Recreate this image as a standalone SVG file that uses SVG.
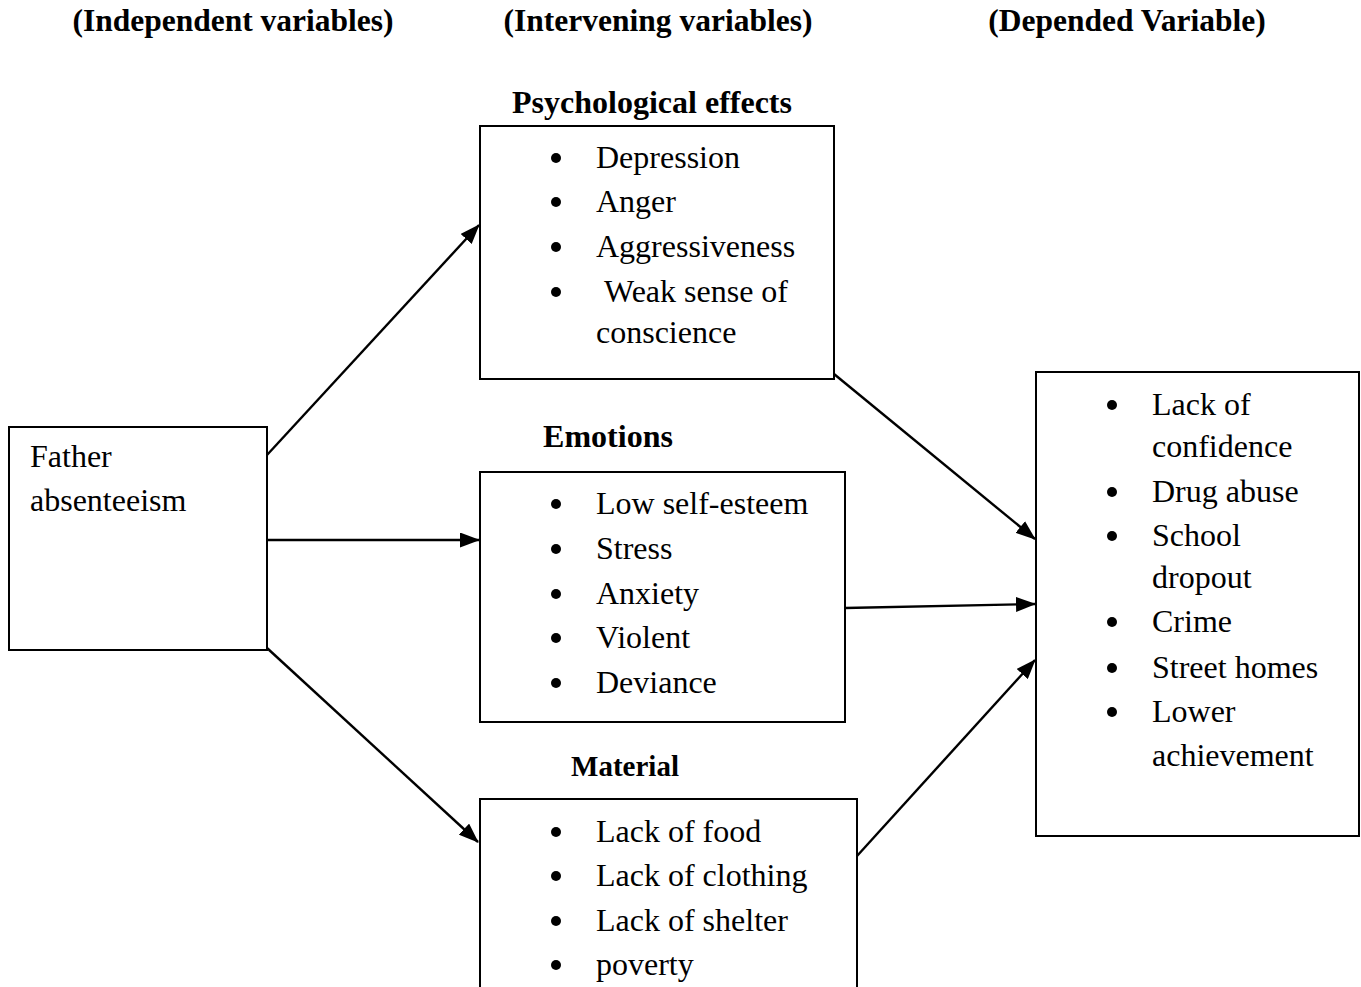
<svg xmlns="http://www.w3.org/2000/svg" width="1361" height="987" viewBox="0 0 1361 987">
<style>
.box{fill:#fff;stroke:#000;stroke-width:2}
.t{font-family:"Liberation Serif","Times New Roman",serif;font-size:32px;fill:#000}
.h{font-family:"Liberation Serif","Times New Roman",serif;font-size:31.5px;font-weight:bold;fill:#000;text-anchor:middle}
.c{stroke:#000;stroke-width:2.4;fill:none;marker-end:url(#ah)}
.b{fill:#000}
</style>
<defs>
<marker id="ah" viewBox="0 0 20 15" refX="19" refY="7.5" markerWidth="20" markerHeight="15" markerUnits="userSpaceOnUse" orient="auto">
<path d="M0,0 L20,7.5 L0,15 z" fill="#000"/>
</marker>
</defs>
<rect width="1361" height="987" fill="#fff"/>
<g id="headers">
<text class="h" x="233" y="31">(Independent variables)</text>
<text class="h" x="658" y="31">(Intervening variables)</text>
<text class="h" x="1127" y="31">(Depended Variable)</text>
</g>
<g id="connectors">
<line class="c" x1="267" y1="455" x2="479" y2="225"/>
<line class="c" x1="267" y1="540" x2="479" y2="540"/>
<line class="c" x1="267" y1="648" x2="478" y2="842"/>
<line class="c" x1="834" y1="374" x2="1035" y2="539"/>
<line class="c" x1="845" y1="608" x2="1035" y2="604"/>
<line class="c" x1="857" y1="856" x2="1035" y2="660"/>
</g>
<g id="father">
<rect class="box" x="9" y="427" width="258" height="223"/>
<text class="t" x="30" y="467">Father</text>
<text class="t" x="30" y="511">absenteeism</text>
</g>
<g id="psychological">
<text class="h" x="652" y="113" style="font-size:32px">Psychological effects</text>
<rect class="box" x="480" y="126" width="354" height="253"/>
<circle class="b" cx="556" cy="158" r="5"/><text class="t" x="596" y="168">Depression</text>
<circle class="b" cx="556" cy="202" r="5"/><text class="t" x="596" y="212">Anger</text>
<circle class="b" cx="556" cy="247" r="5"/><text class="t" x="596" y="257">Aggressiveness</text>
<circle class="b" cx="556" cy="292" r="5"/><text class="t" x="604" y="302">Weak sense of</text>
<text class="t" x="596" y="343">conscience</text>
</g>
<g id="emotions">
<text class="h" x="608" y="447" style="font-size:32px">Emotions</text>
<rect class="box" x="480" y="472" width="365" height="250"/>
<circle class="b" cx="556" cy="504" r="5"/><text class="t" x="596" y="514">Low self-esteem</text>
<circle class="b" cx="556" cy="549" r="5"/><text class="t" x="596" y="559">Stress</text>
<circle class="b" cx="556" cy="594" r="5"/><text class="t" x="596" y="604">Anxiety</text>
<circle class="b" cx="556" cy="638" r="5"/><text class="t" x="596" y="648">Violent</text>
<circle class="b" cx="556" cy="683" r="5"/><text class="t" x="596" y="693">Deviance</text>
</g>
<g id="material">
<text class="h" x="625" y="776" style="font-size:29px">Material</text>
<rect class="box" x="480" y="799" width="377" height="200"/>
<circle class="b" cx="556" cy="832" r="5"/><text class="t" x="596" y="842">Lack of food</text>
<circle class="b" cx="556" cy="876" r="5"/><text class="t" x="596" y="886">Lack of clothing</text>
<circle class="b" cx="556" cy="921" r="5"/><text class="t" x="596" y="931">Lack of shelter</text>
<circle class="b" cx="556" cy="965" r="5"/><text class="t" x="596" y="975">poverty</text>
</g>
<g id="outcomes">
<rect class="box" x="1036" y="372" width="323" height="464"/>
<circle class="b" cx="1112" cy="405" r="5"/><text class="t" x="1152" y="415">Lack of</text>
<text class="t" x="1152" y="457">confidence</text>
<circle class="b" cx="1112" cy="492" r="5"/><text class="t" x="1152" y="502">Drug abuse</text>
<circle class="b" cx="1112" cy="536" r="5"/><text class="t" x="1152" y="546">School</text>
<text class="t" x="1152" y="588">dropout</text>
<circle class="b" cx="1112" cy="622" r="5"/><text class="t" x="1152" y="632">Crime</text>
<circle class="b" cx="1112" cy="668" r="5"/><text class="t" x="1152" y="678">Street homes</text>
<circle class="b" cx="1112" cy="712" r="5"/><text class="t" x="1152" y="722">Lower</text>
<text class="t" x="1152" y="766">achievement</text>
</g>
</svg>
